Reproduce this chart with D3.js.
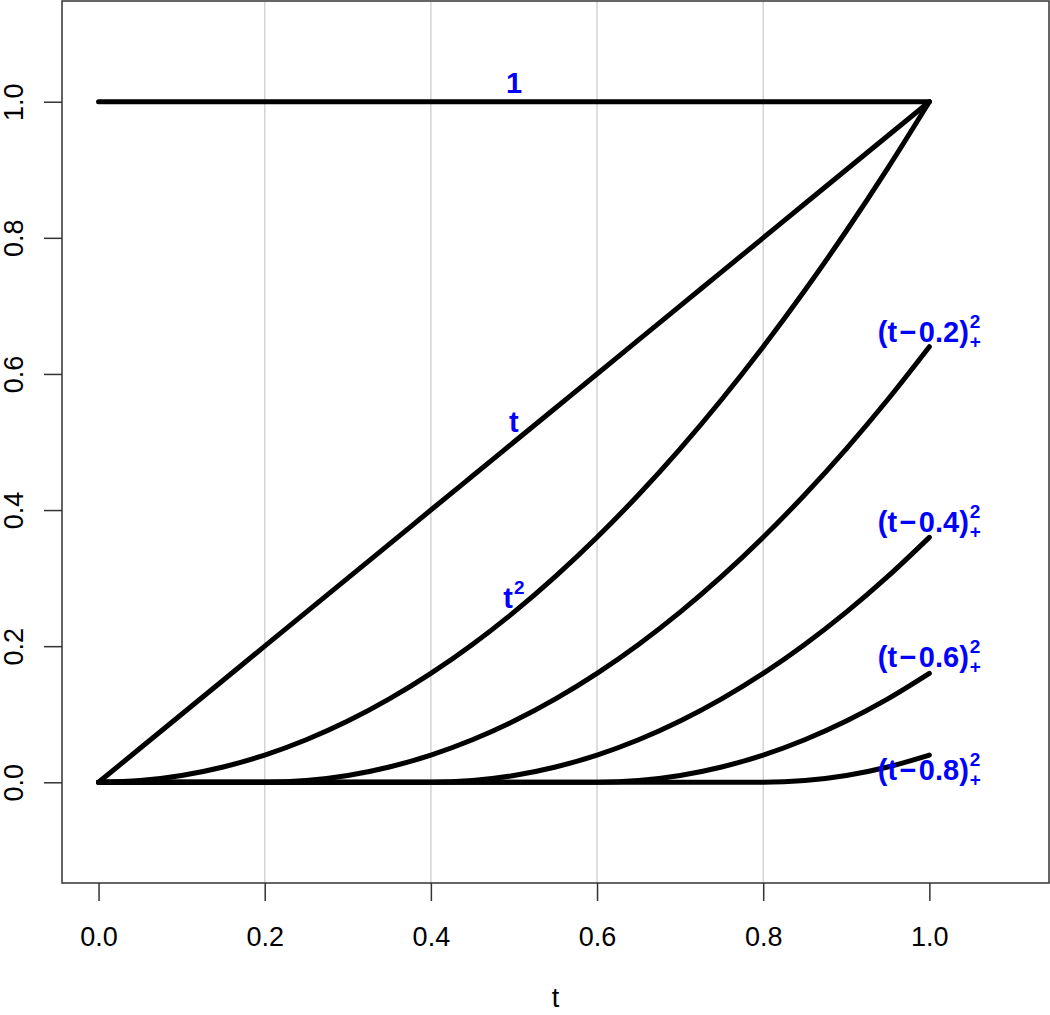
<!DOCTYPE html>
<html>
<head>
<meta charset="utf-8">
<script src="https://cdn.jsdelivr.net/npm/d3@7"></script>
<style>
  body { margin: 0; background: #fff; }
  text { font-family: "Liberation Sans", Arial, sans-serif; }
</style>
</head>
<body>
<svg width="1050" height="1015"></svg>
<script>
// sample points along t
const tVals = [0, 0.05, 0.1, 0.15, 0.2, 0.25, 0.3, 0.35, 0.4, 0.45, 0.5,
               0.55, 0.6, 0.65, 0.7, 0.75, 0.8, 0.85, 0.9, 0.95, 1];

// values for each basis curve
const oneVals = [1, 1, 1, 1, 1, 1, 1, 1, 1, 1, 1, 1, 1, 1, 1, 1, 1, 1, 1, 1, 1];
const tLinVals = [0, 0.05, 0.1, 0.15, 0.2, 0.25, 0.3, 0.35, 0.4, 0.45, 0.5,
                  0.55, 0.6, 0.65, 0.7, 0.75, 0.8, 0.85, 0.9, 0.95, 1];
const tSqVals = [0, 0.0025, 0.01, 0.0225, 0.04, 0.0625, 0.09, 0.1225, 0.16, 0.2025, 0.25,
                 0.3025, 0.36, 0.4225, 0.49, 0.5625, 0.64, 0.7225, 0.81, 0.9025, 1];
const k02Vals = [0, 0, 0, 0, 0, 0.0025, 0.01, 0.0225, 0.04, 0.0625, 0.09,
                 0.1225, 0.16, 0.2025, 0.25, 0.3025, 0.36, 0.4225, 0.49, 0.5625, 0.64];
const k04Vals = [0, 0, 0, 0, 0, 0, 0, 0, 0, 0.0025, 0.01,
                 0.0225, 0.04, 0.0625, 0.09, 0.1225, 0.16, 0.2025, 0.25, 0.3025, 0.36];
const k06Vals = [0, 0, 0, 0, 0, 0, 0, 0, 0, 0, 0,
                 0, 0, 0.0025, 0.01, 0.0225, 0.04, 0.0625, 0.09, 0.1225, 0.16];
const k08Vals = [0, 0, 0, 0, 0, 0, 0, 0, 0, 0, 0,
                 0, 0, 0, 0, 0, 0, 0.0025, 0.01, 0.0225, 0.04];

const seriesVals = [oneVals, tLinVals, tSqVals, k02Vals, k04Vals, k06Vals, k08Vals];

const xTicks = [0, 0.2, 0.4, 0.6, 0.8, 1];
const yTicks = [0, 0.2, 0.4, 0.6, 0.8, 1];
const gridX = [0.2, 0.4, 0.6, 0.8];

// curve labels: main text, superscript, subscript, anchor point
const labelMain = ["1", "t", "t", "(t\u200A\u2212\u200A0.2)", "(t\u200A\u2212\u200A0.4)",
                   "(t\u200A\u2212\u200A0.6)", "(t\u200A\u2212\u200A0.8)"];
const labelSup  = ["", "", "2", "2", "2", "2", "2"];
const labelSub  = ["", "", "", "+", "+", "+", "+"];
const labelT    = [0.5, 0.5, 0.5, 1, 1, 1, 1];
const labelY    = [1, 0.5, 0.25, 0.64, 0.36, 0.16, 0.04];
const labelDy   = [-9, -10, -4, -5, -5, -6, 25];

const plotL = 62, plotR = 1049, plotT = 1, plotB = 883;

const svg = d3.select('svg');

const x = d3.scaleLinear().domain([-0.044, 1.144]).range([plotL, plotR]);
const y = d3.scaleLinear().domain([-0.148, 1.148]).range([plotB, plotT]);

// vertical grid
svg.append('g')
    .selectAll('line')
    .data(gridX)
    .enter()
    .append('line')
    .attr('x1', d => x(d)).attr('x2', d => x(d))
    .attr('y1', plotT).attr('y2', plotB)
    .attr('stroke', '#d3d3d3')
    .attr('stroke-width', 1.5);

// axes
const xAxis = svg.append('g')
    .attr('transform', `translate(0, ${plotB})`)
    .call(d3.axisBottom(x).tickValues(xTicks).tickSize(18).tickPadding(26)
        .tickFormat(d3.format('.1f')));
const yAxis = svg.append('g')
    .attr('transform', `translate(${plotL}, 0)`)
    .call(d3.axisLeft(y).tickValues(yTicks).tickSize(18).tickFormat(d3.format('.1f')));

[xAxis, yAxis].forEach(a => {
    a.select('.domain').remove();
    a.selectAll('.tick line').attr('stroke', '#333').attr('stroke-width', 1.5);
    a.selectAll('.tick text').attr('fill', '#000')
        .style('font-size', '27px')
        .style('font-family', '"Liberation Sans", Arial, sans-serif');
});
xAxis.selectAll('.tick text').attr('dy', '0.71em');
yAxis.selectAll('.tick text')
    .attr('x', 0).attr('dy', 0)
    .attr('text-anchor', 'middle')
    .attr('transform', 'translate(-39, 0) rotate(-90)');

// box
svg.append('rect')
    .attr('x', plotL).attr('y', plotT)
    .attr('width', plotR - plotL).attr('height', plotB - plotT)
    .attr('fill', 'none')
    .attr('stroke', '#333')
    .attr('stroke-width', 1.5);

// x label
svg.append('text')
    .attr('x', (plotL + plotR) / 2)
    .attr('y', 1007)
    .attr('text-anchor', 'middle')
    .style('font-size', '27px')
    .text('t');

// curves
const line = d3.line()
    .x((d, i) => x(tVals[i]))
    .y(d => y(d))
    .curve(d3.curveMonotoneX);

svg.append('g')
    .selectAll('path')
    .data(seriesVals)
    .enter()
    .append('path')
    .attr('d', d => line(d))
    .attr('fill', 'none')
    .attr('stroke', '#000')
    .attr('stroke-width', 5)
    .attr('stroke-linecap', 'round')
    .attr('stroke-linejoin', 'round');

// blue labels
labelMain.forEach((m, i) => {
    const g = svg.append('g');
    const main = g.append('text')
        .attr('x', 0).attr('y', 0)
        .attr('fill', '#0000ff')
        .style('font-size', '29px')
        .style('font-weight', 'bold')
        .text(m);
    let w = main.node().getComputedTextLength();
    let extra = 0;
    if (labelSup[i]) {
        const s = g.append('text')
            .attr('x', w + 1).attr('y', -14)
            .attr('fill', '#0000ff')
            .style('font-size', '19px')
            .style('font-weight', 'bold')
            .text(labelSup[i]);
        extra = Math.max(extra, s.node().getComputedTextLength() + 1);
    }
    if (labelSub[i]) {
        const s = g.append('text')
            .attr('x', w + 1).attr('y', 6)
            .attr('fill', '#0000ff')
            .style('font-size', '19px')
            .style('font-weight', 'bold')
            .text(labelSub[i]);
        extra = Math.max(extra, s.node().getComputedTextLength() + 1);
    }
    const total = w + extra;
    g.attr('transform', `translate(${x(labelT[i]) - total / 2}, ${y(labelY[i]) + labelDy[i]})`);
});
</script>
</body>
</html>
